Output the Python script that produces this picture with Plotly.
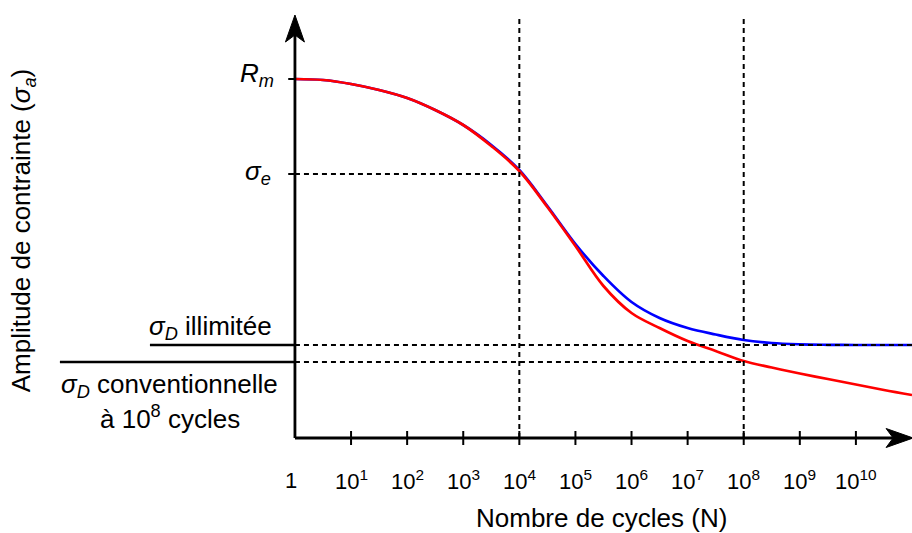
import math
import plotly.graph_objects as go

# ---- data (amplitude in arbitrary units above the N axis) ----
cycles = [1e0, 3.16e0, 1e1, 3.16e1, 1e2, 3.16e2, 1e3, 3.16e3, 1e4, 3.16e4, 1e5, 3.16e5,
          1e6, 3.16e6, 1e7, 3.16e7, 1e8, 3.16e8, 1e9, 3.16e9, 1e10, 3.16e10, 1e11]
amp_illimitee = [359, 358, 354, 348, 340, 328, 313, 293, 268, 232, 194, 162,
                 136, 120, 110, 103.5, 98, 95, 93.7, 93.2, 93, 93, 93]
amp_conventionnelle = [359, 358, 354, 348, 340, 328, 313, 292, 267, 231, 192, 152,
                       125, 110, 97, 87, 77, 70.5, 64.5, 59, 53.5, 48, 43]

Rm = 359
sigma_e = 264
sigma_D_ill = 93
sigma_D_conv = 76
N_e = 1e4
N_conv = 1e8
tick_decades = [1, 2, 3, 4, 5, 6, 7, 8, 9, 10]
tick_labels = ["10<sup>%d</sup>" % k for k in tick_decades]

X_MIN_LOG, X_MAX_LOG = -5.258, 11.0
Y_MIN, Y_MAX = -95, 438
Y_TOP = 423           # tip of the vertical axis arrow
X_TIP_LOG = 11.02     # tip of the horizontal axis arrow (log10 N)

FONT = "Liberation Sans, Arial, Helvetica, sans-serif"
BLACK = "black"
DASH = "5px,4px"

fig = go.Figure()

# curves
fig.add_trace(go.Scatter(x=cycles, y=amp_illimitee, mode="lines", line_shape="spline",
                         line=dict(color="#0000ff", width=2.7), hoverinfo="skip"))
fig.add_trace(go.Scatter(x=cycles, y=amp_conventionnelle, mode="lines", line_shape="spline",
                         line=dict(color="#ff0000", width=2.7), hoverinfo="skip"))

def seg(x0, x1, y0, y1, dash=None, width=2.5):
    fig.add_trace(go.Scatter(x=[x0, x1], y=[y0, y1], mode="lines",
                             line=dict(color=BLACK, width=width, dash=dash),
                             hoverinfo="skip"))

# dashed reference lines
seg(1, N_e, sigma_e, sigma_e, DASH, 2)
seg(1, 10 ** X_MAX_LOG, sigma_D_ill, sigma_D_ill, DASH, 2)
seg(1, N_conv, sigma_D_conv, sigma_D_conv, DASH, 2)
seg(N_e, N_e, 0, Y_TOP, DASH, 2)
seg(N_conv, N_conv, 0, Y_TOP, DASH, 2)

# solid label lines left of the axis
seg(10 ** -2.585, 1, sigma_D_ill, sigma_D_ill)
seg(10 ** -4.19, 1, sigma_D_conv, sigma_D_conv)

# axes
seg(1, 1, 0, Y_TOP - 20, None, 2.8)
seg(1, 10 ** (X_TIP_LOG - 0.36), 0, 0, None, 2.8)

# x ticks
for k in tick_decades:
    seg(10 ** k, 10 ** k, -7, 7, None, 2)
# y ticks
for v in (Rm, sigma_e):
    seg(10 ** -0.12, 1, v, v, None, 2)

# arrowheads (pixel-sized paths anchored at the arrow tips, anchors in data units)
fig.add_shape(type="path", xref="x", yref="y", xsizemode="pixel", ysizemode="pixel",
              xanchor=1, yanchor=Y_TOP,
              path="M0,0 L9.5,-27 L0,-20 L-9.5,-27 Z",
              fillcolor=BLACK, line=dict(color=BLACK, width=1))
fig.add_shape(type="path", xref="x", yref="y", xsizemode="pixel", ysizemode="pixel",
              xanchor=10 ** X_TIP_LOG, yanchor=0,
              path="M0,0 L-27,9.5 L-20,0 L-27,-9.5 Z",
              fillcolor=BLACK, line=dict(color=BLACK, width=1))

# tick labels
fig.add_annotation(x=0, y=-42, text="1", showarrow=False, xanchor="center",
                   yanchor="middle", font=dict(size=22, family=FONT, color=BLACK),
                   xshift=-4)
for k, lab in zip(tick_decades, tick_labels):
    fig.add_annotation(x=k, y=-42, text=lab, showarrow=False, xanchor="center",
                       yanchor="middle", font=dict(size=22, family=FONT, color=BLACK))

# axis titles
fig.add_annotation(x=5.47, y=-80, text="Nombre de cycles (N)",
                   showarrow=False, xanchor="center", yanchor="middle",
                   font=dict(size=26, family=FONT, color=BLACK))
fig.add_annotation(x=-4.86, y=208, text="Amplitude de contrainte (<i>σ<sub>a</sub></i>)",
                   showarrow=False, textangle=-90, xanchor="center", yanchor="middle",
                   font=dict(size=26, family=FONT, color=BLACK))

# y-level labels
fig.add_annotation(x=-0.68, y=364, text="<i>R<sub>m</sub></i>", showarrow=False,
                   xanchor="center", yanchor="middle",
                   font=dict(size=26, family=FONT, color=BLACK))
fig.add_annotation(x=-0.66, y=266, text="<i>σ<sub>e</sub></i>", showarrow=False,
                   xanchor="center", yanchor="middle",
                   font=dict(size=26, family=FONT, color=BLACK))
fig.add_annotation(x=-1.5, y=111, text="<i>σ<sub>D</sub></i> illimitée", showarrow=False,
                   xanchor="center", yanchor="middle",
                   font=dict(size=26, family=FONT, color=BLACK))
fig.add_annotation(x=-2.23, y=53, text="<i>σ<sub>D</sub></i> conventionnelle",
                   showarrow=False, xanchor="center", yanchor="middle",
                   font=dict(size=26, family=FONT, color=BLACK))
fig.add_annotation(x=-2.23, y=21, text="à 10<sup>8</sup> cycles", showarrow=False,
                   xanchor="center", yanchor="middle",
                   font=dict(size=26, family=FONT, color=BLACK))

fig.update_layout(
    width=912, height=533, autosize=False,
    margin=dict(l=0, r=0, t=0, b=0),
    paper_bgcolor="white", plot_bgcolor="white",
    showlegend=False,
    xaxis=dict(type="log", range=[X_MIN_LOG, X_MAX_LOG], visible=False, fixedrange=True),
    yaxis=dict(range=[Y_MIN, Y_MAX], visible=False, fixedrange=True),
)

fig.write_html("out.html", config={"displayModeBar": False},
               post_script="document.body.style.margin='0';document.body.style.overflow='hidden';")
